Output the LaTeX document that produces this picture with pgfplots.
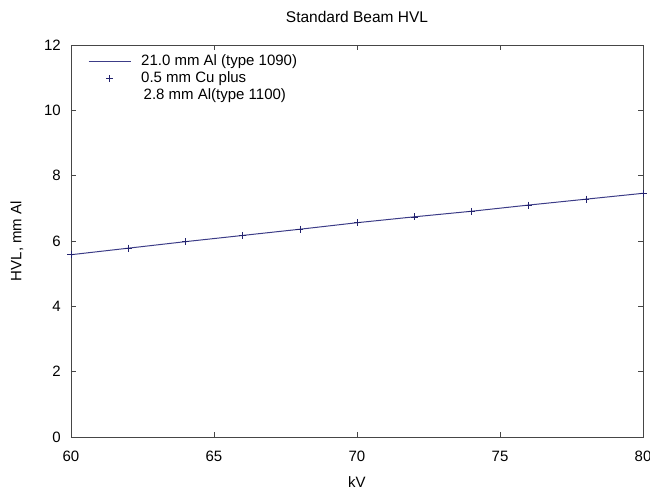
\documentclass[border=0pt]{standalone}
\usepackage{pgfplots}
\pgfplotsset{compat=1.18}
\usepackage{fontspec}
\setmainfont{Liberation Sans}

\definecolor{hvlline}{RGB}{60,60,135}
\definecolor{hvlmark}{RGB}{35,35,110}
\definecolor{axgray}{RGB}{70,70,70}

\pgfplotsset{
  lineimg/.style={legend image code/.code={\draw[##1] (0pt,0pt) -- (42pt,0pt);}},
  markimg/.style={legend image code/.code={\draw[##1] plot coordinates {(21pt,0pt)};}},
}

\begin{document}
\fontsize{15}{17}\selectfont
\begin{tikzpicture}
\path[use as bounding box] (-71pt,-54pt) rectangle (579pt,437pt);
\begin{axis}[
  at={(0pt,0pt)}, anchor=south west,
  scale only axis, width=572pt, height=392pt,
  xmin=60, xmax=80, ymin=0, ymax=12,
  xtick={60,65,...,80}, ytick={0,2,...,12},
  tick align=inside, major tick length=5pt,
  axis line style={axgray, line width=0.8pt},
  tick style={axgray, line width=0.8pt},
  /pgf/number format/assume math mode=true,
  every tick label/.append style={font=\fontsize{15}{17}\selectfont},
  xticklabel style={yshift=-9pt},
  yticklabel style={xshift=-5pt},
  title={Standard Beam HVL},
  title style={font=\fontsize{15.5}{17}\selectfont, at={(axis description cs:0.5,1)}, anchor=center, yshift=22pt},
  xlabel={kV},
  xlabel style={font=\fontsize{15}{17}\selectfont, at={(axis description cs:0.5,0)}, anchor=center, yshift=-45pt},
  ylabel={HVL, mm Al},
  ylabel style={font=\fontsize{15}{17}\selectfont, at={(axis description cs:-0.0944,0.5)}, anchor=center},
  legend cell align=left,
  legend style={draw=none, fill=none, inner sep=0pt, row sep=0pt,
    at={(axis description cs:0,1)}, anchor=north west, xshift=17pt, yshift=-8pt,
    font=\fontsize{15}{17}\selectfont,
    nodes={inner sep=0pt, text height=12pt, text depth=5pt},
    /tikz/every odd column/.append style={column sep=10pt}},
]
\addplot[hvlline, line width=1pt, no marks, lineimg]
  coordinates {(60,5.58) (62,5.78) (64,5.98) (66,6.17) (68,6.36) (70,6.56)
               (72,6.74) (74,6.91) (76,7.10) (78,7.28) (80,7.46)};
\addlegendentry{21.0 mm Al (type 1090)}
\addplot[hvlmark, only marks, mark=+, mark size=3.5pt, line width=0.6pt, markimg]
  coordinates {(60,5.58) (62,5.78) (64,5.98) (66,6.17) (68,6.36) (70,6.56)
               (72,6.74) (74,6.91) (76,7.10) (78,7.28) (80,7.46)};
\addlegendentry{0.5 mm Cu plus}
\addlegendimage{empty legend}
\addlegendentry{\,2.8 mm Al(type 1100)}
\end{axis}
\end{tikzpicture}
\end{document}
